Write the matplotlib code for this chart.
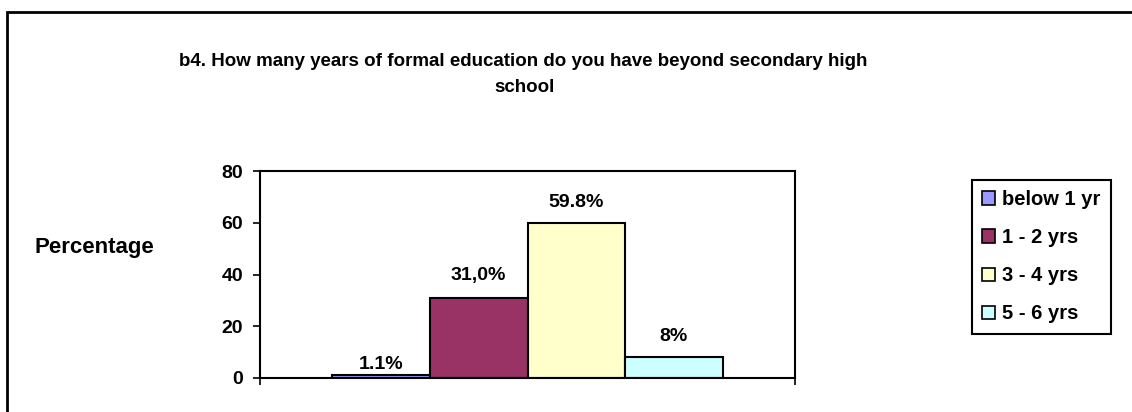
import matplotlib
matplotlib.use("Agg")
import matplotlib.pyplot as plt
from matplotlib.patches import Patch, Rectangle

plt.rcParams['font.family'] = ['Liberation Sans', 'DejaVu Sans']
plt.rcParams['font.weight'] = 'bold'

# data
categories = ["below 1 yr", "1 - 2 yrs", "3 - 4 yrs", "5 - 6 yrs"]
values = [1.1, 31.0, 59.8, 8.0]
value_labels = ["1.1%", "31,0%", "59.8%", "8%"]
y_ticks = [0, 20, 40, 60, 80]

COLORS = ["#9999FF", "#993366", "#FFFFCC", "#CCFFFF"]
LABEL_GAP = [1.5, 10, 9, 9]  # points above bar top

fig = plt.figure(figsize=(11.32, 4.12), dpi=100)

# outer chart border
fig.patches.append(Rectangle((7 / 1132, -0.05), 1.2, 1 - 12 / 412 + 0.05,
                             transform=fig.transFigure, fill=False,
                             edgecolor="black", linewidth=2))

ax = fig.add_axes([260 / 1132, 1 - 378 / 412, 535 / 1132, 207 / 412])

width = 0.1825
for i, (val, lab) in enumerate(zip(values, value_labels)):
    x = (i - 1.5) * width
    ax.bar(x, val, width=width, color=COLORS[i], edgecolor="black", linewidth=1.5)
    ax.annotate(lab, (x, val), xytext=(0, LABEL_GAP[i]), textcoords="offset points",
                ha="center", va="bottom", fontsize=14, fontweight="bold")

ax.set_xlim(-0.5, 0.5)
ax.set_ylim(0, 80)
ax.set_yticks(y_ticks)
ax.set_xticks([-0.5, 0.5])
ax.set_xticklabels(["", ""])
ax.tick_params(axis="both", direction="out", length=5, width=1.2, labelsize=14)
ax.tick_params(axis="y", pad=7)
for s in ax.spines.values():
    s.set_linewidth(1.5)

fig.text(94 / 1132, 1 - 248 / 412, "Percentage", ha="center", va="center",
         fontsize=16, fontweight="bold")

fig.text(523 / 1132, 1 - 62 / 412, "b4. How many years of formal education do you have beyond secondary high",
         ha="center", va="center", fontsize=13.5, fontweight="bold")
fig.text(525 / 1132, 1 - 88 / 412, "school", ha="center", va="center",
         fontsize=13.5, fontweight="bold")

handles = [Patch(facecolor=c, edgecolor="black", linewidth=1.2) for c in COLORS]
leg = fig.legend(handles, categories, loc="upper left",
                 bbox_to_anchor=(972 / 1132, 1 - 180 / 412),
                 bbox_transform=fig.transFigure, fontsize=14.5,
                 handlelength=0.65, handleheight=0.65, handletextpad=0.35,
                 labelspacing=0.95, borderpad=0.5, borderaxespad=0,
                 fancybox=False, edgecolor="black", framealpha=1)
leg.get_frame().set_linewidth(1.5)
for t in leg.get_texts():
    t.set_fontweight("bold")

fig.savefig("out.png", dpi=100)
